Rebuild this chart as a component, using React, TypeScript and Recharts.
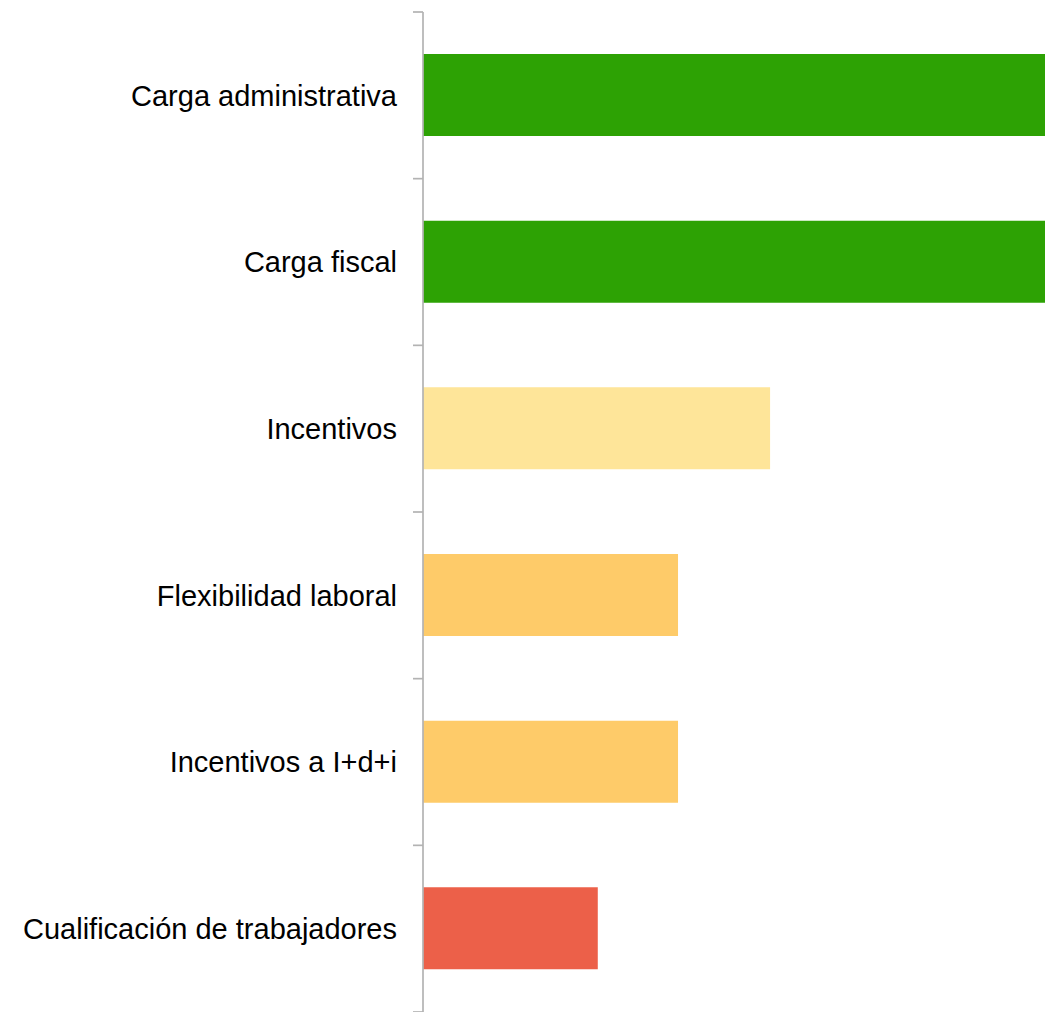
import React from "react";
import { BarChart, Bar, XAxis, YAxis, Cell } from "recharts";

const categories = [
  "Carga administrativa",
  "Carga fiscal",
  "Incentivos",
  "Flexibilidad laboral",
  "Incentivos a I+d+i",
  "Cualificación de trabajadores",
];
const values = [100, 100, 55.8, 41, 41, 28.1];
const colors = ["#2DA204", "#2DA204", "#FEE599", "#FECB69", "#FECB69", "#EC6049"];

const data = categories.map((name, i) => ({ name, value: values[i] }));

const AXIS_COLOR = "#b3b3b3";
const TICK_SIZE = 10;
const TICK_MARGIN = 16;

function BoundaryTick(props: any) {
  const { x, y, payload, index, visibleTicksCount } = props;
  const half = payload && typeof payload.offset === "number" ? payload.offset : 0;
  const lx1 = x + TICK_MARGIN;
  const lx2 = x + TICK_MARGIN + TICK_SIZE;
  const isLast = index === (visibleTicksCount ?? categories.length) - 1;
  return (
    <g>
      <line x1={lx1} x2={lx2} y1={y - half} y2={y - half} stroke={AXIS_COLOR} strokeWidth={1.7} />
      {isLast && (
        <line x1={lx1} x2={lx2} y1={y + half} y2={y + half} stroke={AXIS_COLOR} strokeWidth={1.7} />
      )}
      <text
        x={x}
        y={y}
        dy="0.355em"
        textAnchor="end"
        fill="#000"
        fontSize={29}
        fontFamily="Liberation Sans, Arial, sans-serif"
      >
        {payload.value}
      </text>
    </g>
  );
}

export default function App() {
  return (
    <div style={{ position: "absolute", left: 0, top: 0, width: 1045, height: 1012, overflow: "hidden", background: "#fff" }}>
      <BarChart
        width={1045}
        height={1012}
        data={data}
        layout="vertical"
        margin={{ top: 12, right: 0, bottom: 0, left: 0 }}
        barSize={82}
      >
        <XAxis type="number" domain={[0, 100]} hide padding={{ left: 0, right: 0 }} />
        <YAxis
          type="category"
          dataKey="name"
          width={423}
          tickSize={TICK_SIZE}
          tickMargin={TICK_MARGIN}
          axisLine={{ stroke: AXIS_COLOR, strokeWidth: 1.7 }}
          tickLine={false}
          tick={<BoundaryTick />}
          interval={0}
        />
        <Bar dataKey="value" isAnimationActive={false}>
          {data.map((d, i) => (
            <Cell key={d.name} fill={colors[i]} />
          ))}
        </Bar>
      </BarChart>
    </div>
  );
}
